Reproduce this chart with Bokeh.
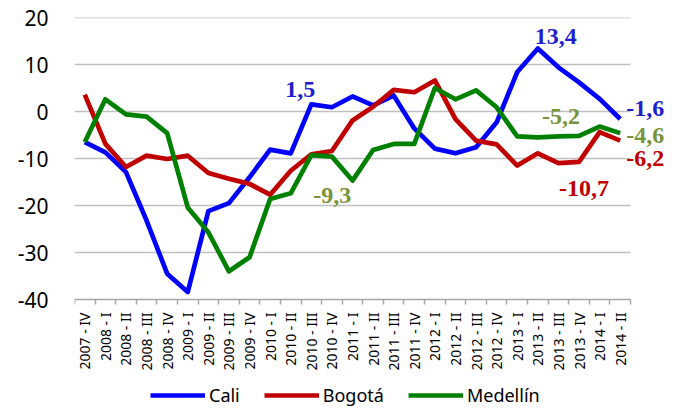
from bokeh.plotting import figure
from bokeh.models import FixedTicker, Legend, LegendItem, ColumnDataSource
from bokeh.core.properties import value
from bokeh.embed import file_html
from bokeh.resources import INLINE
import math

quarters = ["2007 - IV",
            "2008 - I", "2008 - II", "2008 - III", "2008 - IV",
            "2009 - I", "2009 - II", "2009 - III", "2009 - IV",
            "2010 - I", "2010 - II", "2010 - III", "2010 - IV",
            "2011 - I", "2011 - II", "2011 - III", "2011 - IV",
            "2012 - I", "2012 - II", "2012 - III", "2012 - IV",
            "2013 - I", "2013 - II", "2013 - III", "2013 - IV",
            "2014 - I", "2014 - II"]

cali = [-6.5, -8.7, -12.9, -23.2, -34.5, -38.4, -21.2, -19.5, -14.0, -8.1, -8.9, 1.5, 0.9,
        3.2, 1.3, 3.4, -3.6, -7.9, -8.9, -7.6, -2.3, 8.4, 13.4, 9.4, 6.2, 2.7, -1.6]
bogota = [3.6, -6.9, -11.8, -9.4, -10.1, -9.4, -13.1, -14.3, -15.4, -17.7, -12.6, -9.1, -8.4,
          -1.9, 1.0, 4.6, 4.1, 6.6, -1.6, -6.2, -7.0, -11.5, -8.9, -11.0, -10.7, -4.4, -6.2]
medellin = [-6.5, 2.6, -0.6, -1.1, -4.6, -20.4, -25.7, -34.0, -31.0, -18.6, -17.4, -9.3, -9.6,
            -14.7, -8.2, -6.9, -6.9, 5.0, 2.6, 4.5, 0.9, -5.3, -5.5, -5.3, -5.2, -3.2, -4.6]

series_names = ["Cali", "Bogotá", "Medellín"]
y_ticks = [-40, -30, -20, -10, 0, 10, 20]
y_tick_labels = ["-40", "-30", "-20", "-10", "0", "10", "20"]

line_colors = ["#0000FF", "#C00000", "#008000"]
label_colors = ["#1F1FCB", "#C00000", "#77933C"]

n = len(quarters)
idx = list(range(n))
x_lo, x_hi = -0.5, n - 0.5
# extra room (in data units) right of the categories for end labels,
# and below the value axis for the rotated category labels and the legend
x_room = 2.476
y_room = 23.19

p = figure(width=681, height=408, output_backend="svg", toolbar_location=None,
           x_range=(x_lo, x_hi + x_room),
           y_range=(min(y_ticks) - y_room, max(y_ticks)),
           min_border_left=74, min_border_right=0, min_border_top=17, min_border_bottom=0)
p.outline_line_color = None
p.background_fill_color = "white"
p.border_fill_color = "white"
p.xgrid.grid_line_color = None
p.ygrid.grid_line_color = None

# horizontal grid lines limited to the category span
grid_y = y_ticks[1:]
p.segment(x0=[x_lo] * len(grid_y), x1=[x_hi] * len(grid_y), y0=grid_y, y1=grid_y,
          line_color="#C0C0C0", line_width=1.5)

# x axis drawn at the bottom of the value range
xa = p.xaxis[0]
xa.fixed_location = min(y_ticks)
xa.bounds = (x_lo, x_hi)
xa.ticker = FixedTicker(ticks=idx, minor_ticks=[i - 0.5 for i in range(n + 1)])
xa.major_label_overrides = {i: q for i, q in enumerate(quarters)}
xa.major_label_orientation = math.pi / 2
xa.major_tick_line_color = None
xa.major_tick_out = 0
xa.major_tick_in = 0
xa.minor_tick_line_color = "#A6A6A6"
xa.minor_tick_line_width = 1.5
xa.minor_tick_out = 5
xa.minor_tick_in = 0
xa.axis_line_color = "#A6A6A6"
xa.axis_line_width = 1.5
xa.major_label_standoff = 8
xa.major_label_text_font = "Noto Sans"
xa.major_label_text_font_size = "14px"
xa.major_label_text_color = "#000000"

# y axis
ya = p.yaxis[0]
ya.ticker = FixedTicker(ticks=y_ticks)
ya.major_label_overrides = {t: s for t, s in zip(y_ticks, y_tick_labels)}
ya.axis_line_color = None
ya.major_tick_line_color = None
ya.minor_tick_line_color = None
ya.major_tick_out = 0
ya.major_tick_in = 0
ya.major_label_standoff = 26
ya.major_label_text_font = "Noto Sans"
ya.major_label_text_font_size = "21px"
ya.major_label_text_color = "#000000"

src = ColumnDataSource(dict(x=idx, cali=cali, bogota=bogota, medellin=medellin))
renderers = []
for col, c in zip(["cali", "bogota", "medellin"], line_colors):
    r = p.line("x", col, source=src, line_color=c, line_width=4.7, line_join="round")
    renderers.append(r)

# data labels
def fmt(v):
    return ("%.1f" % v).replace(".", ",")

label_specs = [
    # (series values, color index, point index, align, x_off, y_off)
    (cali, 0, 11, "right", 4, -15),
    (medellin, 2, 11, "left", 2, 40),
    (cali, 0, 22, "left", -3, -12),
    (medellin, 2, 24, "right", 1, -19),
    (bogota, 1, 24, "center", 5, 27),
    (cali, 0, 26, "left", 6, -11),
    (medellin, 2, 26, "left", 6, 2),
    (bogota, 1, 26, "left", 6, 18),
]
for vals, ci, i, align, xo, yo in label_specs:
    p.text(x=[i], y=[vals[i]], text=[fmt(vals[i])], text_color=label_colors[ci],
           text_font=value("Liberation Serif"), text_font_style="bold",
           text_font_size="24px", text_align=align, text_baseline="middle",
           x_offset=xo, y_offset=yo)

legend = Legend(items=[LegendItem(label=nm, renderers=[r]) for nm, r in zip(series_names, renderers)],
                orientation="horizontal", location=(76, 1),
                glyph_width=55, glyph_height=20, label_standoff=4, spacing=24,
                padding=0, margin=0, border_line_color=None, background_fill_alpha=0,
                label_text_font="Noto Sans", label_text_font_size="18px",
                label_text_color="#000000")
p.add_layout(legend)

open("out.html", "w").write(file_html(p, INLINE))
